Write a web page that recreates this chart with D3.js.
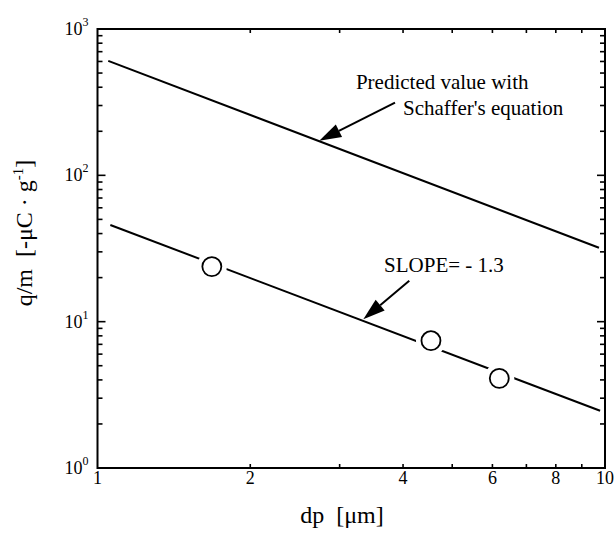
<!DOCTYPE html>
<html>
<head>
<meta charset="utf-8">
<script src="https://cdnjs.cloudflare.com/ajax/libs/d3/7.8.5/d3.min.js"></script>
<style>
  body { margin: 0; background: #fff; }
  text { font-family: "Liberation Serif", "Times New Roman", serif; fill: #000; }
</style>
</head>
<body>
<svg id="canvas"></svg>
<script>
// ########## Data ##########
var dpPred = [1.05, 9.73];      // Schaffer's equation line
var qmPred = [605, 32.0];
var dpFit = [1.06, 9.78];       // fitted line, slope -1.3
var qmFit = [45.8, 2.46];
var dpMeas = [1.68, 4.54, 6.19];  // measured points
var qmMeas = [23.8, 7.41, 4.10];
var xTickLabels = [1, 2, 4, 6, 8, 10];
var yTickExps = [0, 1, 2, 3];

var w = 616, h = 540;
var pLeft = 97.5, pRight = 605, pTop = 29, pBottom = 468;

var svg = d3.select("#canvas").attr("width", w).attr("height", h);

var x = d3.scaleLog().domain([1, 10]).range([pLeft, pRight]);
var y = d3.scaleLog().domain([1, 1000]).range([pBottom, pTop]);

// ########## Ticks ##########
var xMinor = d3.range(2, 10);
var yMinor = [];
[1, 10, 100].forEach(function (b) { d3.range(2, 10).forEach(function (k) { yMinor.push(b * k); }); });

function tickLines(g, vals, pos, len, side) {
    vals.forEach(function (v) {
        var p = pos(v);
        if (side === "bottom") g.append("line").attr("x1", p).attr("x2", p).attr("y1", pBottom).attr("y2", pBottom - len);
        if (side === "top") g.append("line").attr("x1", p).attr("x2", p).attr("y1", pTop).attr("y2", pTop + len);
        if (side === "left") g.append("line").attr("y1", p).attr("y2", p).attr("x1", pLeft).attr("x2", pLeft + len);
        if (side === "right") g.append("line").attr("y1", p).attr("y2", p).attr("x1", pRight).attr("x2", pRight - len);
    });
}
var ticks = svg.append("g").attr("stroke", "#000").attr("stroke-width", 1.6);
tickLines(ticks, xMinor, x, 4, "bottom");
tickLines(ticks, xMinor, x, 4, "top");
tickLines(ticks, yMinor, y, 5, "left");
tickLines(ticks, yMinor, y, 5, "right");
tickLines(ticks, [10, 100], y, 8, "left");
tickLines(ticks, [10, 100], y, 8, "right");

// frame
svg.append("rect")
    .attr("x", pLeft).attr("y", pTop)
    .attr("width", pRight - pLeft).attr("height", pBottom - pTop)
    .attr("fill", "none").attr("stroke", "#000").attr("stroke-width", 2);

// x tick labels
svg.append("g").selectAll("text")
    .data(xTickLabels).enter()
    .append("text")
    .attr("x", function (d) { return x(d); })
    .attr("y", pBottom + 16)
    .attr("text-anchor", "middle")
    .attr("font-size", 18)
    .text(function (d) { return d; });

// y tick labels 10^n
var yl = svg.append("g").selectAll("text")
    .data(yTickExps).enter()
    .append("text")
    .attr("x", pLeft - 9)
    .attr("y", function (d) { return y(Math.pow(10, d)) + 6; })
    .attr("text-anchor", "end")
    .attr("font-size", 18);
yl.append("tspan").text("10");
yl.append("tspan").attr("dy", -9).attr("font-size", 12).text(function (d) { return d; });

// axis titles
svg.append("text")
    .attr("x", 342).attr("y", 523)
    .attr("text-anchor", "middle")
    .attr("font-size", 24)
    .attr("xml:space", "preserve")
    .text("dp  [\u03bcm]");

var yt = svg.append("text")
    .attr("transform", "translate(32,233) rotate(-90)")
    .attr("text-anchor", "middle")
    .attr("font-size", 24)
    .attr("xml:space", "preserve");
yt.append("tspan").text("q/m  [-\u03bcC \u00b7 g");
yt.append("tspan").attr("dy", -9).attr("font-size", 15).text("-1");
yt.append("tspan").attr("dy", 9).text("]");

// ########## Lines ##########
var line = d3.line().x(function (d) { return x(d[0]); }).y(function (d) { return y(d[1]); });

svg.append("path")
    .datum(d3.zip(dpPred, qmPred))
    .attr("d", line)
    .attr("fill", "none").attr("stroke", "#000").attr("stroke-width", 2);

svg.append("path")
    .datum(d3.zip(dpFit, qmFit))
    .attr("d", line)
    .attr("fill", "none").attr("stroke", "#000").attr("stroke-width", 2);

// white gaps round the markers, then the markers
var meas = d3.zip(dpMeas, qmMeas);
svg.append("g").selectAll("circle")
    .data(meas).enter()
    .append("circle")
    .attr("cx", function (d) { return x(d[0]); })
    .attr("cy", function (d) { return y(d[1]); })
    .attr("r", 15)
    .attr("fill", "#fff");
svg.append("g").selectAll("circle")
    .data(meas).enter()
    .append("circle")
    .attr("cx", function (d) { return x(d[0]); })
    .attr("cy", function (d) { return y(d[1]); })
    .attr("r", 9.5)
    .attr("fill", "#fff")
    .attr("stroke", "#000")
    .attr("stroke-width", 1.8);

// ########## Annotations ##########
function arrow(from, to) {
    var x1 = x(from[0]), y1 = y(from[1]), x2 = x(to[0]), y2 = y(to[1]);
    var a = Math.atan2(y2 - y1, x2 - x1);
    var len = 22, hw = 7;
    var bx = x2 - len * Math.cos(a), by = y2 - len * Math.sin(a);
    svg.append("line")
        .attr("x1", x1).attr("y1", y1).attr("x2", bx).attr("y2", by)
        .attr("stroke", "#000").attr("stroke-width", 2);
    svg.append("path")
        .attr("d", "M" + x2 + "," + y2 +
            "L" + (bx + hw * Math.sin(a)) + "," + (by - hw * Math.cos(a)) +
            "L" + (bx - hw * Math.sin(a)) + "," + (by + hw * Math.cos(a)) + "Z")
        .attr("fill", "#000");
}

function note(pos, str) {
    svg.append("text")
        .attr("x", x(pos[0])).attr("y", y(pos[1]))
        .attr("font-size", 21)
        .text(str);
}

note([3.23, 389], "Predicted value with");
note([4.0, 258.5], "Schaffer's equation");
arrow([3.857, 313.6], [2.735, 172.5]);

note([3.67, 21.85], "SLOPE= - 1.3");
arrow([4.115, 19.05], [3.34, 10.38]);
</script>
</body>
</html>
